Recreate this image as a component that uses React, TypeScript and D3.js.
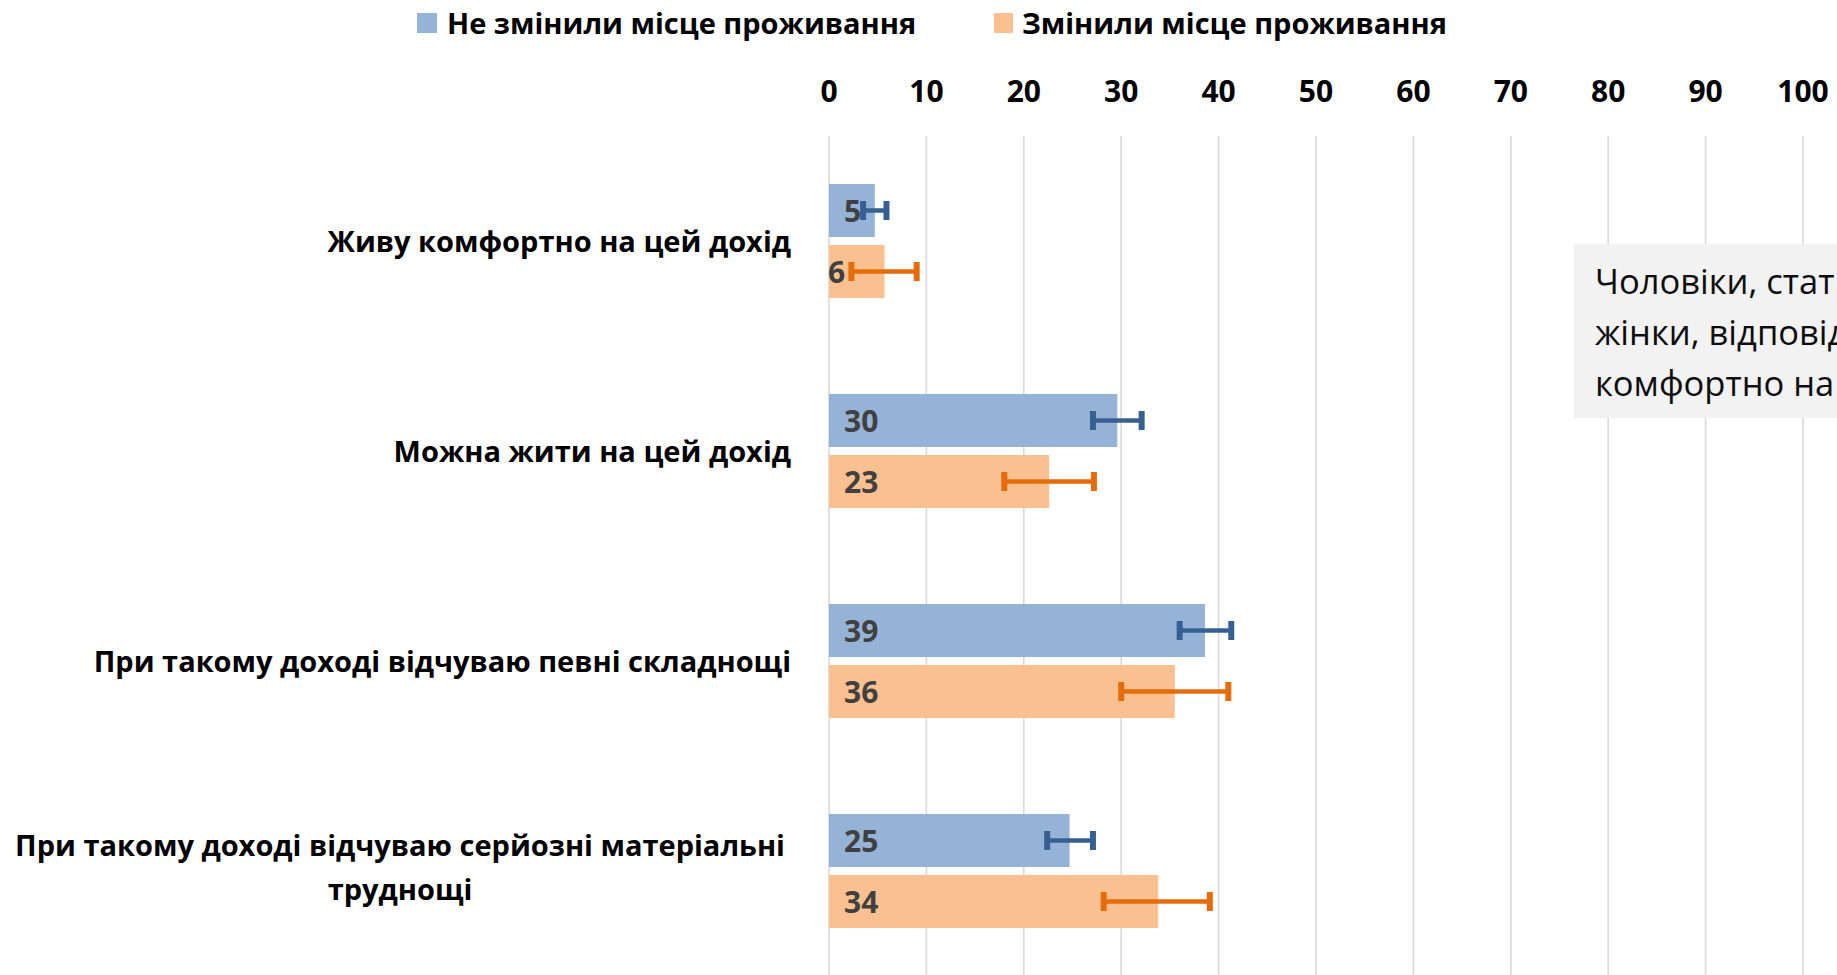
import React from "react";
import * as d3 from "d3";

const categories = [
  "Живу комфортно на цей дохід",
  "Можна жити на цей дохід",
  "При такому доході відчуваю певні складнощі",
  "При такому доході відчуваю серйозні матеріальні труднощі",
];
const categoryLines = [
  ["Живу комфортно на цей дохід"],
  ["Можна жити на цей дохід"],
  ["При такому доході відчуваю певні складнощі"],
  ["При такому доході відчуваю серйозні матеріальні", "труднощі"],
];
const seriesNames = ["Не змінили місце проживання", "Змінили місце проживання"];
const stayed = [4.7, 29.6, 38.6, 24.7];
const moved = [5.7, 22.6, 35.5, 33.8];
const stayedLabels = ["5", "30", "39", "25"];
const movedLabels = ["6", "23", "36", "34"];
const stayedLow = [3.5, 27.1, 36.0, 22.4];
const stayedHigh = [5.9, 32.1, 41.3, 27.1];
const movedLow = [2.3, 18.0, 30.0, 28.2];
const movedHigh = [9.0, 27.2, 41.0, 39.1];
const xTicks = [0, 10, 20, 30, 40, 50, 60, 70, 80, 90, 100];
const noteLines = [
  "Чоловіки, статистично значуще частіше ніж",
  "жінки, відповідали, що живуть",
  "комфортно на цей дохід",
];

const barColors = ["#95B3D7", "#FAC090"];
const errColors = ["#376092", "#E46C0A"];
const FONT = "'Open Sans', 'Noto Sans', sans-serif";

export default function App() {
  const W = 1837, H = 975;
  const x = d3.scaleLinear().domain([0, 100]).range([829, 1803]);
  const y = d3.scaleBand().domain(categories).range([136, 976]).paddingInner(0).paddingOuter(0);
  const inner = d3.scaleBand().domain(seriesNames).range([0, 114]).paddingInner(8 / 61).paddingOuter(0);
  const values = [stayed, moved];
  const labels = [stayedLabels, movedLabels];
  const lows = [stayedLow, movedLow];
  const highs = [stayedHigh, movedHigh];
  const labelNudge = [[0, 0, 0, 0], [-16, 0, 0, 0]];

  return (
    <div style={{ position: "absolute", left: 0, top: 0 }}>
      <svg width={W} height={H} style={{ display: "block", background: "#fff" }}>
        {/* legend */}
        <g fontFamily={FONT} fontWeight={700} fontSize={29}>
          <rect x={417} y={13} width={20} height={20} fill={barColors[0]} />
          <text x={447} y={34} fill="#000">{seriesNames[0]}</text>
          <rect x={994} y={13} width={19} height={20} fill={barColors[1]} />
          <text x={1022} y={34} fill="#000">{seriesNames[1]}</text>
        </g>
        {/* gridlines + tick labels */}
        {xTicks.map((t) => (
          <g key={t}>
            <line x1={x(t)} x2={x(t)} y1={136} y2={H} stroke="#D9D9D9" strokeWidth={1.6} />
            <text x={x(t)} y={101.5} textAnchor="middle" fontFamily={FONT} fontWeight={700} fontSize={30} fill="#000">
              {t}
            </text>
          </g>
        ))}
        {/* annotation box */}
        <rect x={1574} y={244} width={400} height={174} fill="#F2F2F2" />
        {noteLines.map((l, i) => (
          <text key={i} x={1595} y={294 + i * 51} fontFamily={FONT} fontSize={34.5} fill="#0D0D0D">
            {l}
          </text>
        ))}
        {/* category labels */}
        {categories.map((c, ci) => {
          const cy = (y(c) as number) + y.bandwidth() / 2;
          const lines = categoryLines[ci];
          if (lines.length === 1) {
            return (
              <text key={c} x={791} y={cy + 11} textAnchor="end" fontFamily={FONT} fontWeight={700} fontSize={29} fill="#000">
                {lines[0]}
              </text>
            );
          }
          return (
            <g key={c}>
              {lines.map((l, li) => (
                <text key={li} x={400} y={cy - 22 + li * 44 + 7} textAnchor="middle" fontFamily={FONT} fontWeight={700} fontSize={29} fill="#000">
                  {l}
                </text>
              ))}
            </g>
          );
        })}
        {/* bars */}
        {categories.map((c, ci) => {
          const base = (y(c) as number) + y.bandwidth() / 2 - 57;
          return (
            <g key={c}>
              {seriesNames.map((s, si) => {
                const top = base + (inner(s) as number);
                const bh = inner.bandwidth();
                const cy = top + bh / 2;
                return (
                  <g key={s}>
                    <rect x={x(0)} y={top} width={x(values[si][ci]) - x(0)} height={bh} fill={barColors[si]} />
                    <text x={x(0) + 15 + labelNudge[si][ci]} y={cy + 11.5} fontFamily={FONT} fontWeight={700} fontSize={30} fill="#404040">
                      {labels[si][ci]}
                    </text>
                    <line x1={x(lows[si][ci])} x2={x(highs[si][ci])} y1={cy} y2={cy} stroke={errColors[si]} strokeWidth={4.5} />
                    <line x1={x(lows[si][ci])} x2={x(lows[si][ci])} y1={cy - 9.5} y2={cy + 9.5} stroke={errColors[si]} strokeWidth={6} />
                    <line x1={x(highs[si][ci])} x2={x(highs[si][ci])} y1={cy - 9.5} y2={cy + 9.5} stroke={errColors[si]} strokeWidth={6} />
                  </g>
                );
              })}
            </g>
          );
        })}
      </svg>
    </div>
  );
}
